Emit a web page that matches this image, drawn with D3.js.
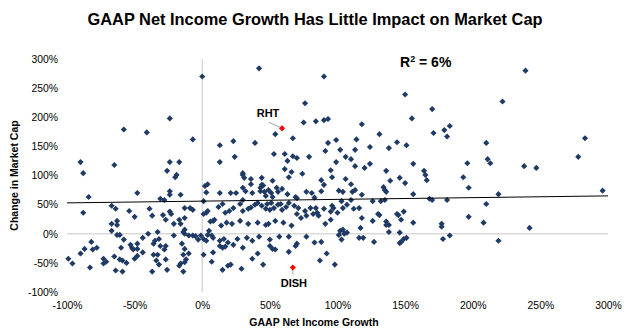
<!DOCTYPE html>
<html>
<head>
<meta charset="utf-8">
<script src="https://cdn.jsdelivr.net/npm/d3@7"></script>
<style>
  body { margin: 0; background: #fff; }
  svg { font-family: "Liberation Sans", Arial, sans-serif; }
</style>
</head>
<body>
<div id="chart"></div>
<script>
// tick values (percent)
var xTicks = [-100, -50, 0, 50, 100, 150, 200, 250, 300];
var yTicks = [-100, -50, 0, 50, 100, 150, 200, 250, 300];

// [GAAP net income growth %, change in market cap %]
var companies = [
  [-90,123],[-88,104],[-65,118],[-58,179],[-41,174],[-24,198],[-7,162],[-24,123],[-17,123],[-26,108],
  [-19,101],[-20,97],[0,270],[13,152],[13,123],[42,284],[90,270],[76,224],[75,191],[84,193],
  [90,195],[93,197],[118,188],[150,239],[155,198],[54,171],[67,164],[23,159],[39,156],[24,132],
  [53,137],[61,137],[67,133],[70,130],[79,132],[63,125],[93,156],[99,161],[114,162],[91,142],
  [102,144],[113,144],[124,149],[131,171],[138,147],[144,157],[151,152],[106,132],[110,128],[99,123],
  [113,116],[120,113],[124,120],[156,120],[95,109],[61,111],[66,106],[74,103],[64,97],[30,104],
  [30,101],[31,96],[36,94],[44,96],[52,91],[36,85],[44,84],[45,83],[43,79],[55,79],
  [59,77],[30,79],[88,92],[90,84],[96,97],[106,94],[110,85],[113,75],[134,80],[135,75],
  [136,72],[136,108],[139,91],[146,96],[150,87],[239,280],[222,227],[170,214],[171,173],[179,178],
  [183,185],[181,167],[210,156],[283,164],[278,132],[211,128],[213,121],[196,121],[238,116],[247,113],
  [193,97],[197,79],[164,108],[165,101],[166,92],[296,74],[101,74],[104,72],[111,72],[118,67],
  [156,68],[103,56],[110,58],[126,56],[132,56],[135,58],[168,60],[170,58],[181,58],[107,50],
  [219,68],[210,51],
  [95,38],[100,36],[112,43],[95,24],[118,27],[131,32],[126,22],[117,10],[136,21],[138,15],
  [136,15],[145,32],[149,38],[147,24],[156,19],[177,17],[177,12],[197,29],[208,19],[242,10],
  [104,7],[107,2],[101,-2],[103,-10],[116,-7],[119,-7],[127,-14],[138,3],[146,2],[151,-7],
  [149,-9],[147,-14],[146,-16],[183,-3],[178,-9],[219,-12],[98,-53],
  [4,85],[2,82],[3,71],[13,70],[21,70],[25,70],[32,73],[37,70],[43,73],[46,72],
  [49,75],[51,70],[63,68],[69,63],[70,61],[77,72],[81,70],[88,73],[83,62],[56,72],
  [52,63],[47,65],[30,58],[1,56],
  [1,34],[3,36],[4,39],[9,24],[8,22],[12,46],[15,51],[17,36],[20,39],[23,44],
  [28,51],[30,39],[34,43],[36,45],[39,50],[41,53],[44,48],[47,43],[48,51],[50,41],
  [51,53],[53,44],[56,50],[58,51],[59,41],[62,46],[64,53],[68,48],[71,44],[76,39],
  [80,44],[84,44],[85,36],[90,43],[96,48],[97,44],[104,44],[116,44],[144,34],[130,34],
  [6,21],[14,14],[18,19],[22,17],[28,22],[34,17],[41,19],[47,15],[49,17],[54,22],
  [60,19],[66,14],[70,34],[73,27],[77,31],[82,34],[86,31],[91,17],[102,5],
  [-84,63],[-48,70],[-24,73],[-24,67],[-16,67],[-31,60],[-28,58],[-67,48],[-88,36],[-64,43],
  [-54,39],[-50,29],[-39,43],[-37,31],[-29,32],[-24,38],[-23,34],[-27,24],[-21,17],[-17,24],
  [-13,27],[-16,17],[-9,44],[-7,41],[-13,44],[-67,17],[-63,22],[-63,15],[-67,5],[-63,-2],
  [-61,-2],[-58,-10],[-44,-7],[-40,0],[-33,3],[-36,-17],[-35,-12],[-32,-9],[-31,-21],[-36,-36],
  [-33,-36],[-28,-27],[-27,-21],[-21,-3],[-14,3],[-13,0],[-13,7],[-10,-3],[-7,-3],[-5,-4],
  [-3,-10],[-15,-17],[-13,-26],[-10,-34],[-14,-36],[-16,-51],[-13,-49],[-12,-44],[-17,-55],[-14,-65],
  [-53,-19],[-51,-27],[-48,-26],[-52,-24],[-48,-17],[-60,-24],[-82,-14],[-87,-26],[-81,-27],[-78,-24],
  [-90,-34],[-99,-43],[-96,-51],[-83,-58],[-73,-43],[-71,-48],[-73,-51],[-65,-39],[-61,-44],[-59,-46],
  [-56,-50],[-50,-43],[-48,-38],[-44,-32],[-64,-63],[-59,-65],[-37,-65],[-32,-53],[-27,-44],[-26,-62],
  [-34,-46],
  [-1,-3],[1,-9],[3,-12],[7,-3],[8,-7],[4,-2],[5,5],[13,-12],[16,-9],[19,-15],
  [23,-19],[26,-9],[33,-7],[37,-12],[42,-5],[50,-10],[57,-5],[64,-5],[70,-17],[77,-5],
  [83,-15],[88,-14],[105,0],[7,-48],[8,-32],[15,-24],[17,-22],[30,-24],[37,-43],[41,-34],
  [50,-21],[52,-26],[54,-27],[64,-31],[69,-21],[87,-46],[92,-34],[15,-62],[19,-55],[21,-53],
  [29,-60],[45,-53],[1,-36],[13,-21]
];

// highlighted companies
var highlights = [
  { name: "RHT", x: 59, y: 181 },
  { name: "DISH", x: 67, y: -58 }
];

// linear trendline end points
var trendX = [-100, 300];
var trendY = [53, 65];

var W = 630, H = 333;
var plotLeft = 67, plotRight = 608, plotTop = 59, plotBottom = 292;

var svg = d3.select("#chart").append("svg")
    .attr("width", W)
    .attr("height", H);

var x = d3.scaleLinear().domain([-100, 300]).range([plotLeft, plotRight]);
var y = d3.scaleLinear().domain([-100, 300]).range([plotBottom, plotTop]);

// title
svg.append("text")
    .attr("x", 315)
    .attr("y", 25)
    .attr("text-anchor", "middle")
    .style("font-size", "16.4px")
    .style("font-weight", "bold")
    .text("GAAP Net Income Growth Has Little Impact on Market Cap");

// zero lines
svg.append("line")
    .attr("x1", x(0)).attr("x2", x(0))
    .attr("y1", y(300)).attr("y2", y(-100))
    .attr("stroke", "#d9d9d9").attr("stroke-width", 1.5);
svg.append("line")
    .attr("x1", x(-100)).attr("x2", x(300))
    .attr("y1", y(0)).attr("y2", y(0))
    .attr("stroke", "#d9d9d9").attr("stroke-width", 1.5);

// axes (labels only)
var yAxis = d3.axisLeft(y).tickValues(yTicks).tickSize(0).tickPadding(9)
    .tickFormat(function (d) { return d + "%"; });
var gy = svg.append("g").attr("transform", "translate(" + plotLeft + ",0)").call(yAxis);

var xAxis = d3.axisBottom(x).tickValues(xTicks).tickSize(0).tickPadding(10)
    .tickFormat(function (d) { return d + "%"; });
var gx = svg.append("g").attr("transform", "translate(0," + plotBottom + ")").call(xAxis);

[gx, gy].forEach(function (g) {
    g.select(".domain").remove();
    g.selectAll("text")
        .style("font-size", "10.4px")
        .style("font-family", "Liberation Sans, Arial, sans-serif")
        .attr("fill", "#000");
});

// axis titles
svg.append("text")
    .attr("transform", "translate(18," + ((plotTop + plotBottom) / 2) + ") rotate(-90)")
    .attr("text-anchor", "middle")
    .style("font-size", "10.5px")
    .style("font-weight", "bold")
    .text("Change in Market Cap");

svg.append("text")
    .attr("x", 314)
    .attr("y", 326)
    .attr("text-anchor", "middle")
    .style("font-size", "10.5px")
    .style("font-weight", "bold")
    .text("GAAP Net Income Growth");

// diamonds
var diamond = d3.symbol().type(d3.symbolDiamond2).size(24);

svg.append("g").selectAll("path")
    .data(companies)
    .enter().append("path")
    .attr("d", diamond)
    .attr("transform", function (d) { return "translate(" + x(d[0]) + "," + y(d[1]) + ")"; })
    .attr("fill", "#1f3a64");

// trendline
svg.append("line")
    .attr("x1", x(trendX[0])).attr("y1", y(trendY[0]))
    .attr("x2", x(trendX[1])).attr("y2", y(trendY[1]))
    .attr("stroke", "#000").attr("stroke-width", 1);

// highlighted points and labels
svg.append("line")
    .attr("x1", x(highlights[0].x) - 13).attr("y1", y(highlights[0].y) - 6)
    .attr("x2", x(highlights[0].x) - 2).attr("y2", y(highlights[0].y) - 1)
    .attr("stroke", "#a6a6a6").attr("stroke-width", 1);
svg.append("line")
    .attr("x1", x(highlights[1].x)).attr("y1", y(highlights[1].y) + 2)
    .attr("x2", x(highlights[1].x)).attr("y2", y(highlights[1].y) + 7)
    .attr("stroke", "#a6a6a6").attr("stroke-width", 1);

svg.append("g").selectAll("path")
    .data(highlights)
    .enter().append("path")
    .attr("d", diamond)
    .attr("transform", function (d) { return "translate(" + x(d.x) + "," + y(d.y) + ")"; })
    .attr("fill", "#ff0000");

svg.append("text")
    .attr("x", x(highlights[0].x) - 14)
    .attr("y", y(highlights[0].y) - 11)
    .attr("text-anchor", "middle")
    .style("font-size", "11px")
    .style("font-weight", "bold")
    .text(highlights[0].name);

svg.append("text")
    .attr("x", x(highlights[1].x) + 1)
    .attr("y", y(highlights[1].y) + 19)
    .attr("text-anchor", "middle")
    .style("font-size", "11px")
    .style("font-weight", "bold")
    .text(highlights[1].name);

// R squared
var r2 = svg.append("text")
    .attr("x", 400)
    .attr("y", 67)
    .style("font-size", "14px")
    .style("font-weight", "bold");
r2.append("tspan").text("R");
r2.append("tspan").attr("dy", -5).style("font-size", "9px").text("2");
r2.append("tspan").attr("dy", 5).text(" = 6%");
</script>
</body>
</html>
